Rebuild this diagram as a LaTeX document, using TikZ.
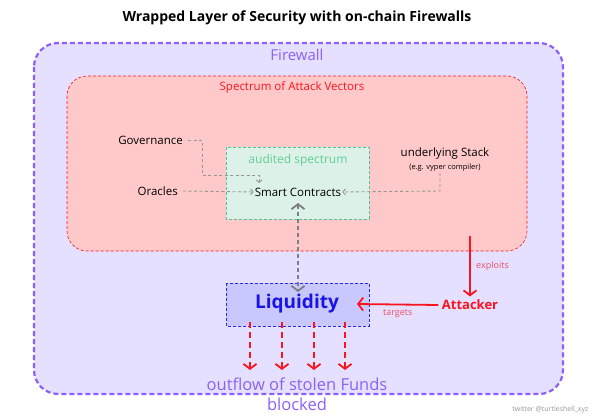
\documentclass[tikz,border=0pt]{standalone}
\usepackage{fontspec}
\setmainfont{Open Sans}
\usetikzlibrary{arrows.meta}
\definecolor{fwpurple}{RGB}{140,96,246}
\definecolor{fwfill}{RGB}{229,224,255}
\definecolor{rfill}{RGB}{255,201,201}
\definecolor{rline}{RGB}{250,20,30}
\definecolor{gfill}{RGB}{220,242,232}
\definecolor{gline}{RGB}{80,196,150}
\definecolor{gtext}{RGB}{100,204,150}
\definecolor{lfill}{RGB}{200,200,255}
\definecolor{lline}{RGB}{40,40,240}
\definecolor{ltext}{RGB}{25,20,230}
\definecolor{lbl}{RGB}{236,80,100}
\definecolor{conn}{RGB}{150,150,150}
\definecolor{conn2}{RGB}{125,125,130}
\tikzset{
  frame/.style={draw=fwpurple, fill=fwfill, line width=2.2pt, dash pattern=on 5pt off 3pt, rounded corners=24pt},
  attackbox/.style={draw=rline, fill=rfill, line width=0.6pt, dash pattern=on 3pt off 2pt, rounded corners=20pt},
  auditbox/.style={draw=gline, fill=gfill, line width=0.8pt, dash pattern=on 3pt off 2pt},
  liqbox/.style={draw=lline, fill=lfill, line width=0.8pt, dash pattern=on 3pt off 2pt},
  lab/.style={inner sep=1pt, font=\fontsize{11.5}{13}\selectfont},
  gconn/.style={draw=conn, line width=0.9pt, dash pattern=on 3pt off 2.5pt, -{Straight Barb[length=2.5pt,width=6pt]}},
  rarrow/.style={draw=rline, line width=1.8pt, -{Straight Barb[length=5pt,width=13pt,line width=1.8pt]}},
  rdash/.style={draw=rline, line width=1.8pt, dash pattern=on 6pt off 4pt, -{Straight Barb[length=5pt,width=13pt,line width=1.8pt]}},
}
\begin{document}
\begin{tikzpicture}[x=1pt,y=-1pt]
\path[use as bounding box] (0,0) rectangle (595,420);
\node (title) at (297,18) {\fontsize{14}{16}\selectfont\bfseries Wrapped Layer of Security with on-chain Firewalls};
\draw[frame] (34,43) rectangle (563,394);
\node[text=fwpurple] (fw) at (297,55) {\fontsize{15}{17}\selectfont Firewall};
\draw[attackbox] (67,76) rectangle (527,251);
\node[text=rline] (sav) at (292,87) {\fontsize{11.5}{13}\selectfont Spectrum of Attack Vectors};
\draw[auditbox] (226,147) rectangle (369,219);
\node[text=gtext] (aud) at (298,160) {\fontsize{12}{14}\selectfont audited spectrum};
\node[lab] (sc) at (298,192) {Smart Contracts};
\node[lab, anchor=east] (gov) at (184,140) {Governance};
\node[lab, anchor=east] (ora) at (179,191) {Oracles};
\node[lab] (stack) at (445,154) {underlying Stack};
\node[inner sep=1pt, font=\fontsize{7.5}{9}\selectfont] (stacksub) at (445,168) {(e.g. vyper compiler)};
\draw[gconn] (gov.east) ++(4,0) -- (202,140) -- (202,175) -- (259,175) -- (259,183);
\draw[gconn] (ora.east) ++(4,0) -- (sc.west);
\draw[gconn] (stacksub.south -| 440,0) -- (440,191) -- (sc.east);
\draw[liqbox] (226,283) rectangle (369,326);
\node[text=ltext] (liq) at (297,304) {\fontsize{19}{21}\selectfont\bfseries Liquidity};
\draw[draw=conn2, line width=1.8pt, dash pattern=on 4pt off 3pt, {Straight Barb[length=5pt,width=13pt,line width=1.8pt]}-{Straight Barb[length=5pt,width=13pt,line width=1.8pt]}] (298,203) -- (298,292);
\node[text=rline] (att) at (470,305) {\fontsize{13}{15}\selectfont\bfseries Attacker};
\coordinate (exs) at (470,236);
\draw[rarrow] (exs) -- (att.north) node[midway, right, text=lbl, font=\fontsize{9}{11}\selectfont, xshift=2pt] {exploits};
\draw[rarrow] (att.west) -- (357,304) node[midway, below, text=lbl, font=\fontsize{9}{11}\selectfont, yshift=-1pt] {targets};
\foreach \x/\n in {250/a,282/b,314/c,345/d}{
  \coordinate (o\n) at (\x,370);
  \draw[rdash] (\x,322) -- (o\n);
}
\node[text=fwpurple] (out) at (297,384) {\fontsize{16.5}{18}\selectfont outflow of stolen Funds};
\node[text=fwpurple] (blk) at (297,404) {\fontsize{16.5}{18}\selectfont blocked};
\node[text=conn, font=\fontsize{7}{8}\selectfont, anchor=east] (tw) at (592,410) {twitter @turtleshell\_xyz};
\end{tikzpicture}
\end{document}
